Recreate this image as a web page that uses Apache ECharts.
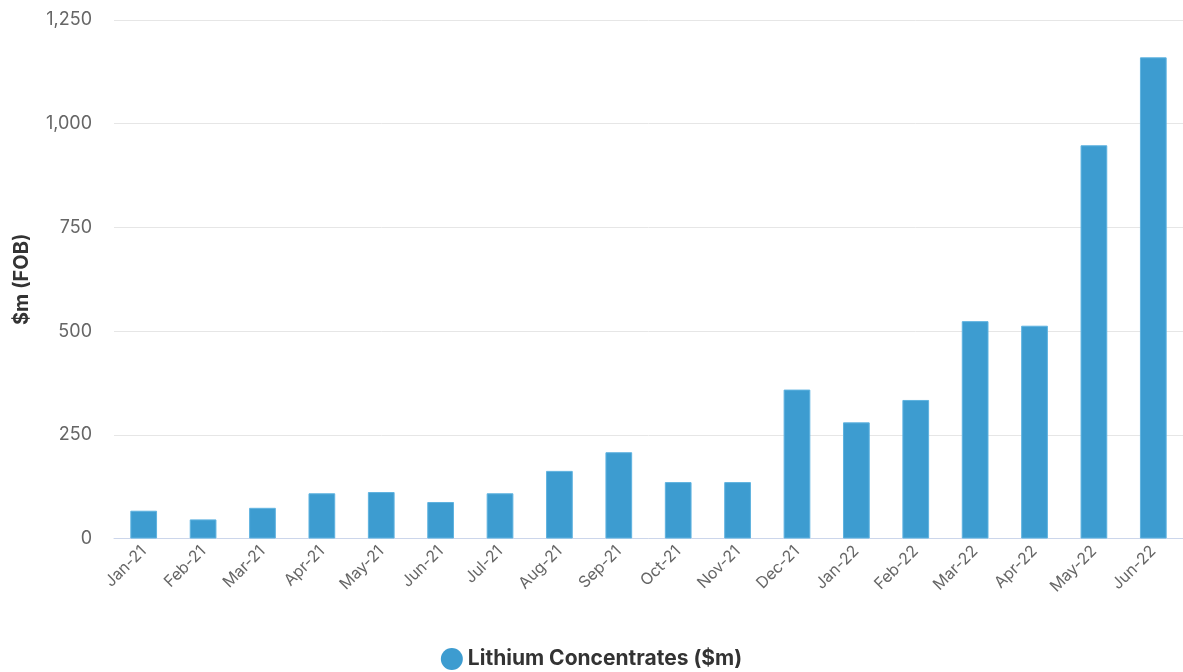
<!DOCTYPE html>
<html>
<head>
<meta charset="utf-8">
<style>
  html, body { margin: 0; padding: 0; background: #fff; }
  #chart { width: 1183px; height: 672px; }
</style>
<script src="https://cdn.jsdelivr.net/npm/echarts@6/dist/echarts.min.js"></script>
</head>
<body>
<div id="chart"></div>
<script>
// 月份
var months = ['Jan-21', 'Feb-21', 'Mar-21', 'Apr-21', 'May-21', 'Jun-21', 'Jul-21', 'Aug-21', 'Sep-21',
  'Oct-21', 'Nov-21', 'Dec-21', 'Jan-22', 'Feb-22', 'Mar-22', 'Apr-22', 'May-22', 'Jun-22'];
// Lithium Concentrates ($m)
var lithium = [67, 46, 74, 109, 112, 88, 109, 163, 208, 136, 136, 359, 280, 334, 524, 513, 948, 1160];
var yTicks = [0, 250, 500, 750, 1000, 1250];

var chart = echarts.init(document.getElementById('chart'));

var option = {
  animation: false,
  textStyle: { fontFamily: 'Inter, "Noto Sans", sans-serif' },
  grid: { left: 114, right: 0, top: 20, bottom: 133.5 },
  legend: {
    bottom: -3,
    left: 'center',
    icon: 'circle',
    itemWidth: 22,
    itemHeight: 22,
    itemGap: 6,
    itemStyle: { borderWidth: 0 },
    textStyle: { fontSize: 21, fontWeight: 'bold', color: '#333' },
    data: ['Lithium Concentrates ($m)']
  },
  xAxis: {
    type: 'category',
    data: months,
    axisLine: { lineStyle: { color: '#ccd6eb' } },
    axisTick: { show: false },
    axisLabel: { rotate: 45, fontSize: 16, color: '#666', margin: 10, interval: 0 }
  },
  yAxis: {
    type: 'value',
    min: yTicks[0],
    max: yTicks[yTicks.length - 1],
    interval: 250,
    name: '$m (FOB)',
    nameLocation: 'middle',
    nameGap: 82,
    nameTextStyle: { fontSize: 20, fontWeight: 'bold', color: '#333' },
    axisLine: { show: false },
    axisTick: { show: false },
    splitLine: { lineStyle: { color: '#e6e6e6' } },
    axisLabel: {
      fontSize: 18, color: '#666', margin: 22,
      formatter: function (v) { return v.toLocaleString('en-US'); }
    }
  },
  series: [{
    name: 'Lithium Concentrates ($m)',
    type: 'bar',
    data: lithium,
    barWidth: '45%',
    itemStyle: { color: '#3d9cd0', borderColor: '#5fb3e0', borderWidth: 1 }
  }]
};

chart.setOption(option);
</script>
</body>
</html>
